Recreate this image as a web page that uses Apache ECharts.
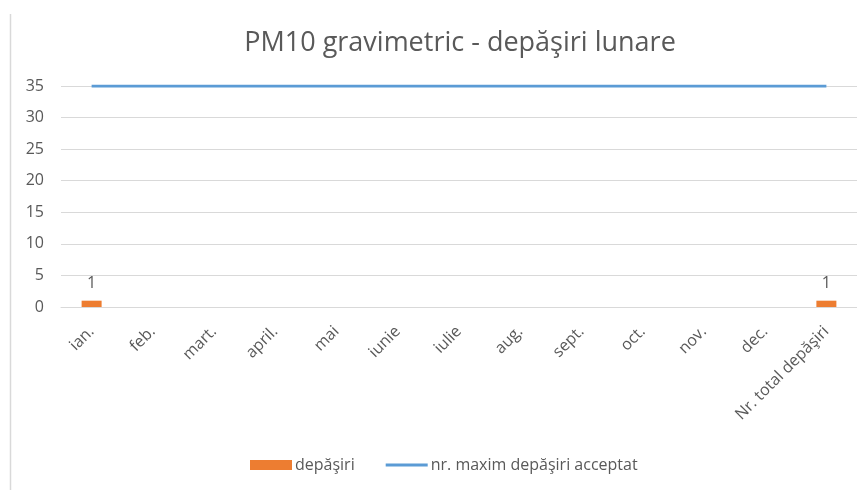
<!DOCTYPE html>
<html>
<head>
<meta charset="utf-8">
<script src="https://cdn.jsdelivr.net/npm/echarts@6/dist/echarts.min.js"></script>
<style>
  html, body { margin: 0; padding: 0; background: #fff; }
  #chart { width: 857px; height: 490px; }
</style>
</head>
<body>
<div id="chart"></div>
<script>
var categories = ['ian.', 'feb.', 'mart.', 'april.', 'mai', 'iunie', 'iulie', 'aug.', 'sept.', 'oct.', 'nov.', 'dec.', 'Nr. total depăşiri'];
var depasiri = [1, 0, 0, 0, 0, 0, 0, 0, 0, 0, 0, 0, 1];
var maximAcceptat = [35, 35, 35, 35, 35, 35, 35, 35, 35, 35, 35, 35, 35];
var yTicks = [0, 5, 10, 15, 20, 25, 30, 35];

var font = '"Open Sans", Lato, sans-serif';
var txt = '#595959';

var myChart = echarts.init(document.getElementById('chart'));
var option = {
    animation: false,
    textStyle: { fontFamily: font, color: txt },
    title: {
        text: 'PM10 gravimetric - depăşiri lunare',
        left: 455,
        top: 25,
        textAlign: 'center',
        textStyle: { fontFamily: font, fontSize: 27, fontWeight: 'normal', color: txt }
    },
    graphic: [{
        type: 'line',
        shape: { x1: 10.5, y1: 14, x2: 10.5, y2: 490 },
        style: { stroke: '#d9d9d9', lineWidth: 1.5 }
    }],
    legend: {
        left: 245,
        top: 452,
        itemGap: 31,
        itemWidth: 42,
        itemHeight: 10,
        textStyle: { fontFamily: font, fontSize: 16, color: txt, padding: [0, 0, 0, -2] },
        data: [
            { name: 'depăşiri', icon: 'rect' },
            { name: 'nr. maxim depăşiri acceptat', icon: 'path://M0,3.5 L42,3.5 L42,6.5 L0,6.5 Z' }
        ]
    },
    grid: {
        left: 61,
        width: 802,
        top: 86,
        height: 221,
        containLabel: false
    },
    xAxis: {
        type: 'category',
        data: categories,
        axisLine: { lineStyle: { color: '#d9d9d9', width: 1 } },
        axisTick: { show: false },
        axisLabel: {
            interval: 0,
            rotate: 45,
            margin: 22,
            fontFamily: font,
            fontSize: 16,
            color: txt
        }
    },
    yAxis: {
        type: 'value',
        min: yTicks[0],
        max: yTicks[yTicks.length - 1],
        interval: 5,
        axisLine: { show: false },
        axisTick: { show: false },
        axisLabel: { fontFamily: font, fontSize: 16, color: txt, margin: 17 },
        splitLine: { lineStyle: { color: '#d9d9d9', width: 1 } }
    },
    series: [
        {
            name: 'depăşiri',
            type: 'bar',
            data: depasiri,
            barWidth: 20,
            itemStyle: { color: '#ed7d31' },
            label: {
                show: true,
                position: 'top',
                distance: 9,
                fontFamily: font,
                fontSize: 16,
                color: txt,
                formatter: function (p) { return p.value > 0 ? p.value : ''; }
            }
        },
        {
            name: 'nr. maxim depăşiri acceptat',
            type: 'line',
            data: maximAcceptat,
            symbol: 'none',
            lineStyle: { color: '#5b9bd5', width: 3 },
            itemStyle: { color: '#5b9bd5' }
        }
    ]
};
myChart.setOption(option);
</script>
</body>
</html>
